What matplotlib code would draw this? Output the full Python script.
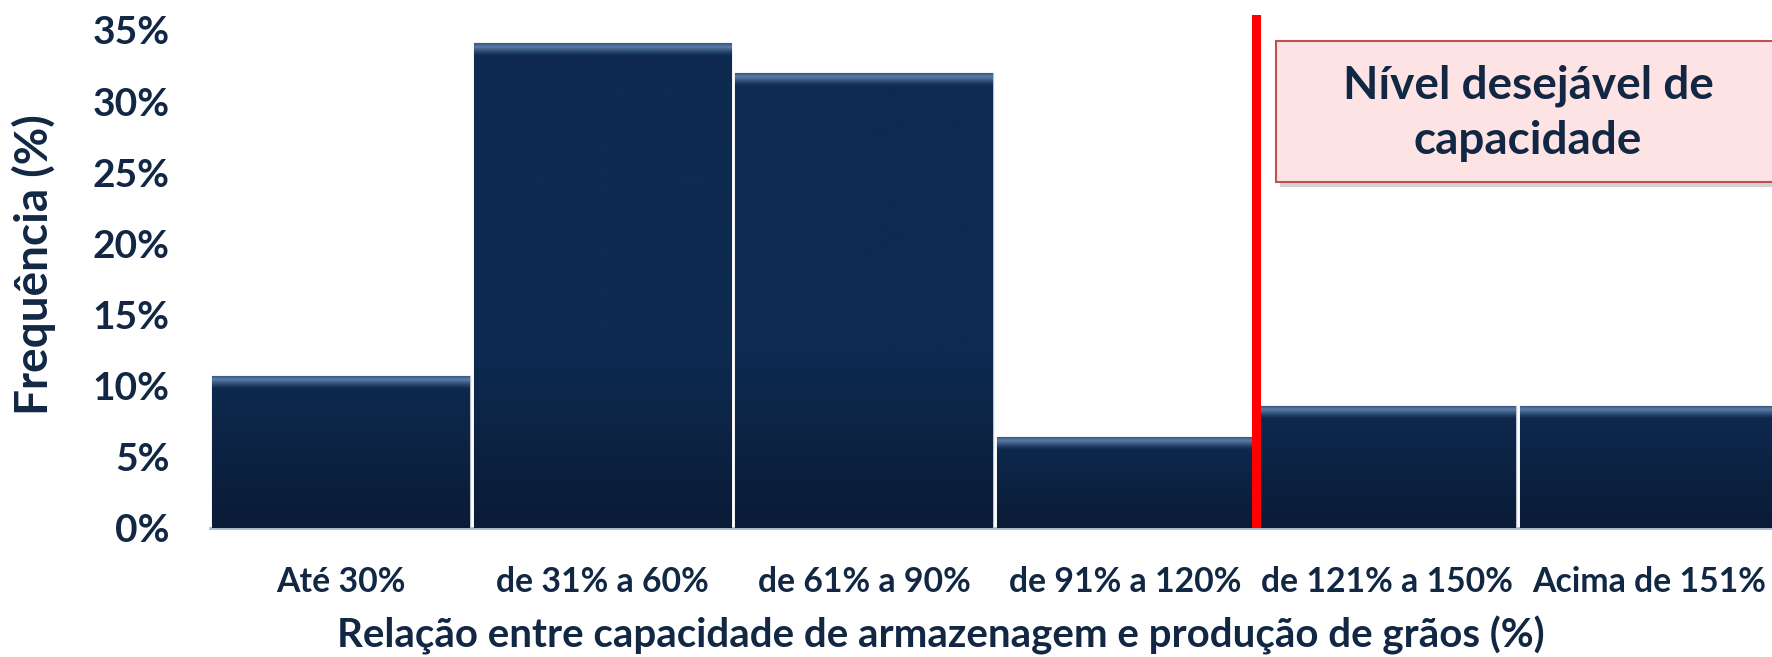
import numpy as np
import matplotlib
matplotlib.use('Agg')
import matplotlib.pyplot as plt
from matplotlib.patches import Rectangle
from matplotlib.colors import to_rgb

# ---- data ----
categories = ['Até 30%', 'de 31% a 60%', 'de 61% a 90%', 'de 91% a 120%',
              'de 121% a 150%', 'Acima de 151%']
frequencia = [10.7, 34.1, 32.0, 6.4, 8.6, 8.6]
yticks = [0, 5, 10, 15, 20, 25, 30, 35]
ytick_labels = [f'{v}%' for v in yticks]
limite_desejavel = 3.5   # boundary between "de 91% a 120%" and "de 121% a 150%"
box_text = 'Nível desejável de\ncapacidade'
xlabel = 'Relação entre capacidade de armazenagem e produção de grãos (%)'
ylabel = 'Frequência (%)'

plt.rcParams['font.family'] = ['Lato', 'DejaVu Sans']
plt.rcParams['font.weight'] = 'bold'
navy = '#112744'

W, H = 1772, 657
fig = plt.figure(figsize=(W / 100, H / 100), dpi=100)
fig.patch.set_facecolor('white')
ax_left, ax_right, ax_bottom, ax_top = 210, W, 528, 15
ax = fig.add_axes([ax_left / W, (H - ax_bottom) / H,
                   (ax_right - ax_left) / W, (ax_bottom - ax_top) / H])
ax.set_facecolor('none')

x = np.arange(len(categories))
bars = ax.bar(x, frequencia, width=0.985, color='#0D2749',
              edgecolor='#B9C3D0', linewidth=1.0, zorder=2)

# vertical gradient with a bevelled top edge, clipped to each bar
bottom_c = np.array(to_rgb('#0A1B36'))
mid_c = np.array(to_rgb('#0E2A50'))
hi_c = np.array(to_rgb('#5B7DA8'))
for b in bars:
    x0, w, h = b.get_x(), b.get_width(), b.get_height()
    n = 500
    ys = np.linspace(0, h, n)
    t = np.clip(ys / min(h, 12.0), 0, 1)
    cols = bottom_c[None, :] * (1 - t[:, None]) + mid_c[None, :] * t[:, None]
    d = h - ys  # distance from top in data units
    k = np.zeros(n)
    m = d < 1.0
    k[m] = np.clip(1 - np.abs(d[m] - 0.3) / 0.65, 0, 1) ** 1.3
    cols = cols * (1 - k[:, None]) + hi_c[None, :] * k[:, None]
    img = cols[:, None, :]
    im = ax.imshow(img, extent=[x0, x0 + w, 0, h], origin='lower',
                   aspect='auto', zorder=2.5, interpolation='bilinear')
    im.set_clip_path(b)

# red line for desired level
ax.axvline(limite_desejavel, color='#FF0000', lw=6.5, zorder=5)

ax.set_xlim(-0.5, -0.5 + (ax_right - ax_left) / 261.6)
ax.set_ylim(0, 35 + (30 - ax_top) / 14.23)
ax.set_xticks(x)
ax.set_xticklabels(categories, fontsize=24.3, fontweight='bold', color=navy)
ax.set_yticks(yticks)
ax.set_yticklabels(ytick_labels, fontsize=28, fontweight='bold', color=navy)
ax.tick_params(axis='both', length=0)
ax.tick_params(axis='y', pad=29)
ax.tick_params(axis='x', pad=27)
for s in ['top', 'right', 'left']:
    ax.spines[s].set_visible(False)
ax.spines['bottom'].set_color('#A9B8CC')
ax.spines['bottom'].set_linewidth(2)
ax.spines['bottom'].set_zorder(1)

ax.set_xlabel(xlabel, fontsize=29, fontweight='bold', color=navy, va='center')
ax.xaxis.set_label_coords((941 - ax_left) / (ax_right - ax_left),
                          (ax_bottom - 635) / (ax_bottom - ax_top))
ax.set_ylabel(ylabel, fontsize=33, fontweight='bold', color=navy,
              va='center', ha='center')
ax.yaxis.set_label_coords((34 - ax_left) / (ax_right - ax_left),
                          (ax_bottom - 265) / (ax_bottom - ax_top))

# annotation box (figure coords)
bx, by_top, by_bot = 1276, 41, 182
shadow = Rectangle((bx / W + 4 / W, (H - by_bot) / H - 5 / H), 0.35,
                   (by_bot - by_top) / H, transform=fig.transFigure,
                   facecolor='#7F7F7F', alpha=0.35, edgecolor='none', zorder=8)
fig.patches.append(shadow)
box = Rectangle((bx / W, (H - by_bot) / H), 0.35, (by_bot - by_top) / H,
                transform=fig.transFigure, facecolor='#FDE3E4',
                edgecolor='#C0504D', lw=1.5, zorder=9)
fig.patches.append(box)
fig.text(1528 / W, (H - 113) / H, box_text, ha='center', va='center',
         fontsize=33, fontweight='bold', color=navy, linespacing=1.38,
         zorder=10)

fig.savefig('out.png', dpi=100, facecolor='white')
